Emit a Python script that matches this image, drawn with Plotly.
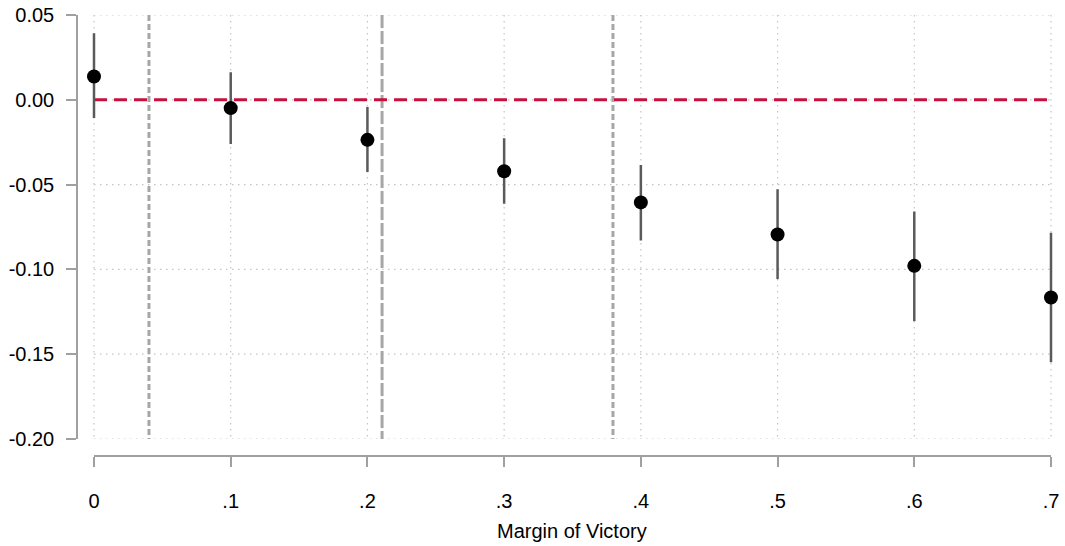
import plotly.graph_objects as go

# Data
margin = [0.0, 0.1, 0.2, 0.3, 0.4, 0.5, 0.6, 0.7]
estimate = [0.0137, -0.0049, -0.0236, -0.0421, -0.0605, -0.0794, -0.0979, -0.1166]
ci_upper = [0.0393, 0.0163, -0.0043, -0.0226, -0.0385, -0.0527, -0.0658, -0.0784]
ci_lower = [-0.0108, -0.0260, -0.0426, -0.0613, -0.0830, -0.1057, -0.1305, -0.1547]

x_ticks = [0, 0.1, 0.2, 0.3, 0.4, 0.5, 0.6, 0.7]
x_ticklabels = ["0", ".1", ".2", ".3", ".4", ".5", ".6", ".7"]
y_ticks = [0.05, 0.0, -0.05, -0.10, -0.15, -0.20]
y_ticklabels = ["0.05", "0.00", "-0.05", "-0.10", "-0.15", "-0.20"]

ref_lines = [0.0402, 0.2107, 0.3796]
ref_dash = ["6px,3px", "13px,3px", "6px,3px"]

W, H = 1065, 546
ml, mr, mt, mb = 60, 4, 15, 60
pw = W - ml - mr
ph = H - mt - mb

def px_to_paper_x(px):
    return (px - ml) / pw

def px_to_paper_y(py):
    return (H - mb - py) / ph

# visible x-axis spans pixels 94..1051 for range 0..0.7;
# the data axis is padded a bit so edge error bars are not clipped
x0_px, x1_px = 94, 1051
pad = 0.006
pad_px = pad * (x1_px - x0_px) / (x_ticks[-1] - x_ticks[0])

fig = go.Figure()

grid_style = dict(color="#c4c4c4", width=1.2, dash="1.5px,4.5px")
for yv in y_ticks:
    fig.add_shape(type="line", xref="x", yref="y", x0=x_ticks[0], x1=x_ticks[-1],
                  y0=yv, y1=yv, line=grid_style, layer="below")
for xv in x_ticks:
    fig.add_shape(type="line", xref="x", yref="y", x0=xv, x1=xv,
                  y0=y_ticks[0], y1=y_ticks[-1], line=grid_style, layer="below")

# invisible trace so the visible x axis (x2) gets drawn
fig.add_trace(go.Scatter(x=x_ticks, y=[y_ticks[0]] * len(x_ticks), xaxis="x2", yaxis="y",
                         mode="markers", marker=dict(opacity=0, size=1),
                         hoverinfo="skip", showlegend=False))

for xv, d in zip(ref_lines, ref_dash):
    fig.add_trace(go.Scatter(x=[xv, xv], y=[y_ticks[0], y_ticks[-1]], mode="lines",
                             line=dict(color="#a6a6a6", width=3, dash=d),
                             hoverinfo="skip", showlegend=False))

fig.add_trace(go.Scatter(x=[margin[0], margin[-1]], y=[0, 0], mode="lines",
                         line=dict(color="#c8103f", width=3, dash="13px,7px"),
                         hoverinfo="skip", showlegend=False))

err_plus = [hi - e for hi, e in zip(ci_upper, estimate)]
err_minus = [e - lo for lo, e in zip(ci_lower, estimate)]

fig.add_trace(go.Scatter(x=margin, y=estimate, mode="markers",
                         marker=dict(color="black", size=14),
                         error_y=dict(type="data", symmetric=False, array=err_plus,
                                      arrayminus=err_minus, color="#5a5a5a",
                                      thickness=2.5, width=0),
                         showlegend=False, cliponaxis=False))

font = dict(family="Liberation Sans, Arial, sans-serif", size=20, color="black")

fig.update_layout(
    width=W, height=H,
    margin=dict(l=ml, r=mr, t=mt, b=mb, autoexpand=False),
    plot_bgcolor="rgba(0,0,0,0)", paper_bgcolor="white",
    font=font,
    xaxis=dict(
        domain=[px_to_paper_x(x0_px - pad_px), px_to_paper_x(x1_px + pad_px)],
        range=[x_ticks[0] - pad, x_ticks[-1] + pad],
        showline=False, ticks="", showticklabels=False,
        showgrid=False, zeroline=False, automargin=False,
    ),
    xaxis2=dict(
        domain=[px_to_paper_x(x0_px), px_to_paper_x(x1_px)],
        range=[x_ticks[0], x_ticks[-1]],
        anchor="free", position=px_to_paper_y(456),
        tickvals=x_ticks, ticktext=x_ticklabels,
        ticks="outside", ticklen=10, tickwidth=1.5, tickcolor="#a0a0a0",
        showline=True, linecolor="#a0a0a0", linewidth=1.5,
        showgrid=False, zeroline=False, ticklabelstandoff=17,
        automargin=False,
    ),
    yaxis=dict(
        domain=[px_to_paper_y(439), 1.0],
        range=[-0.2, 0.05],
        anchor="free", position=px_to_paper_x(77),
        tickvals=y_ticks, ticktext=y_ticklabels,
        ticks="outside", ticklen=10, tickwidth=1.5, tickcolor="#a0a0a0",
        showline=True, linecolor="#a0a0a0", linewidth=1.5,
        showgrid=False, zeroline=False, ticklabelstandoff=8,
        automargin=False,
    ),
    annotations=[dict(text="Margin of Victory", xref="x", x=0.35,
                      yref="paper", y=px_to_paper_y(531), yanchor="middle",
                      showarrow=False, font=dict(family=font["family"], size=20, color="black"))],
)

fig.write_html("out.html")
